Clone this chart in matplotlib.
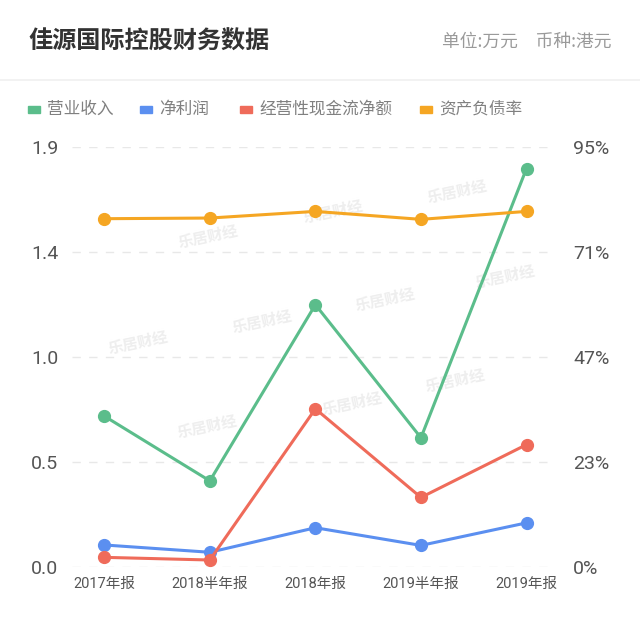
import matplotlib
matplotlib.use("Agg")
import matplotlib.pyplot as plt
import numpy as np

plt.rcParams['font.family'] = ['Noto Sans CJK SC', 'DejaVu Sans']

# data
periods = ["2017年报", "2018半年报", "2018年报", "2019半年报", "2019年报"]
revenue = [0.684, 0.391, 1.188, 0.586, 1.804]
net_profit = [0.101, 0.068, 0.179, 0.099, 0.201]
op_cashflow = [0.045, 0.033, 0.717, 0.316, 0.555]
debt_ratio = [78.85, 79.0, 80.5, 78.7, 80.5]

left_ticks = [0, 0.475, 0.95, 1.425, 1.9]
left_labels = ["0.0", "0.5", "1.0", "1.4", "1.9"]
right_ticks = [0, 23.75, 47.5, 71.25, 95]
right_labels = ["0%", "23%", "47%", "71%", "95%"]

series_names = ["营业收入", "净利润", "经营性现金流净额", "资产负债率"]
colors = ["#5bbd8b", "#5b8ff0", "#ef6b5a", "#f5a623"]

fig = plt.figure(figsize=(6.4, 6.19), dpi=100)
W, H = 640, 619

def fx(px):
    return px / W

def fy(py):
    return 1 - py / H

# header
fig.text(fx(28), fy(42), "佳源国际控股财务数据", fontsize=17.4, fontweight='bold',
         color="#333333", va='center', ha='left')
fig.text(fx(612), fy(42), "单位:万元　币种:港元", fontsize=12.8, color="#9a9a9a",
         va='center', ha='right')
fig.add_artist(plt.Line2D([0, 1], [fy(80), fy(80)], color="#f0f0f0", lw=1.2))

# legend
leg_x = [28, 140, 240, 420]
for name, c, lx in zip(series_names, colors, leg_x):
    fig.patches.append(plt.Rectangle((fx(lx), fy(113)), 12 / W, 7 / H, color=c,
                                     transform=fig.transFigure, figure=fig))
    fig.text(fx(lx + 19), fy(109), name, fontsize=12, color="#808080",
             va='center', ha='left')

# faint watermarks, behind the plot
wm = [(138, 343), (208, 237), (262, 322), (333, 212), (457, 192), (385, 300),
      (505, 277), (207, 427), (352, 404), (455, 381)]
for wx, wy in wm:
    fig.text(fx(wx), fy(wy), "乐居财经", fontsize=11, fontweight='bold',
             color="#eeeeee", rotation=12, ha='center', va='center', zorder=-5)

ax = fig.add_axes([fx(72), fy(567.3), fx(555 - 72), (567.3 - 147.3) / H])
ax2 = ax.twinx()

x = np.arange(len(periods))
for vals, c in zip([revenue, net_profit, op_cashflow], colors[:3]):
    ax.plot(x, vals, color=c, lw=2.2, marker='o', markersize=8.5, zorder=3)
ax2.plot(x, debt_ratio, color=colors[3], lw=2.2, marker='o', markersize=8.5, zorder=3)

ax.set_xlim(-0.306, 4.27)
ax.set_ylim(0, 1.9)
ax2.set_ylim(0, 95)
ax.set_yticks(left_ticks)
ax.set_yticklabels(left_labels)
ax2.set_yticks(right_ticks)
ax2.set_yticklabels(right_labels)
ax.set_xticks(x)
ax.set_xticklabels(periods)

for a in (ax, ax2):
    for s in a.spines.values():
        s.set_visible(False)
    a.tick_params(length=0)
    a.set_facecolor('none')

ax.tick_params(axis='y', labelsize=14, labelcolor="#555555", pad=10)
ax2.tick_params(axis='y', labelsize=14, labelcolor="#555555", pad=13)
ax.tick_params(axis='x', labelsize=10.5, labelcolor="#555555", pad=7)
for lbl in ax.get_yticklabels() + ax2.get_yticklabels() + ax.get_xticklabels():
    lbl.set_family(['Roboto', 'Noto Sans CJK SC'])

ax.grid(axis='y', color="#e8e8e8", linestyle=(0, (6, 6)), lw=1)
ax.set_axisbelow(True)

fig.savefig("out.png", dpi=100, facecolor='white')
